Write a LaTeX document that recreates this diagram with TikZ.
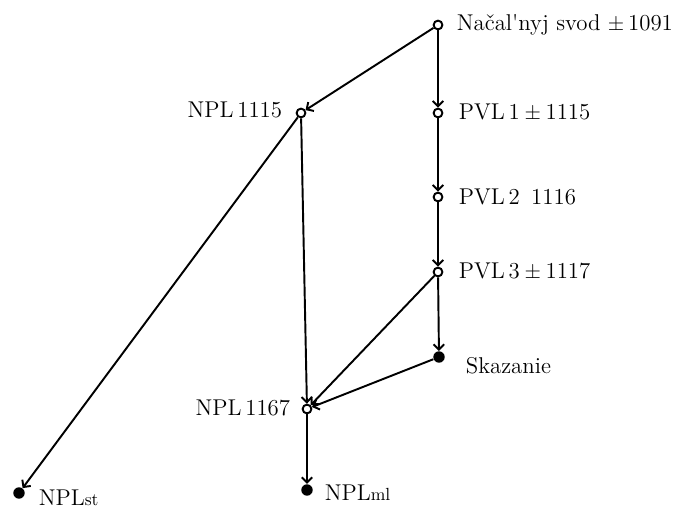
\documentclass[tikz,border=0pt]{standalone}
\usepackage{fontspec}
\usetikzlibrary{arrows.meta}
\tikzset{
  opendot/.style={circle, draw, line width=1.1pt, fill=white, inner sep=0pt, minimum size=5pt},
  fulldot/.style={circle, fill, inner sep=0pt, minimum size=6.5pt},
  lbl/.style={font=\fontsize{13}{15}\selectfont, inner sep=2pt},
  edge/.style={-{Straight Barb[length=3pt,width=6pt]}, line width=1.1pt},
}
\newcommand{\sml}[1]{{\fontsize{10}{11}\selectfont #1}}

\begin{document}
\begin{tikzpicture}[x=0.02cm,y=-0.02cm]
    \useasboundingbox (0,0) rectangle (685,509);

    % =====================
    % Nodes
    % =====================
    \node[opendot] (svod) at (438,25) {};
    \node[opendot] (npla) at (301,113) {};
    \node[opendot] (pvla) at (438,113) {};
    \node[opendot] (pvlb) at (438,197) {};
    \node[opendot] (pvlc) at (438,272) {};
    \node[fulldot] (skaz) at (439,357) {};
    \node[opendot] (nplb) at (307,409) {};
    \node[fulldot] (nplst) at (19,493) {};
    \node[fulldot] (nplml) at (307,490) {};

    % =====================
    % Labels
    % =====================
    \node[lbl, anchor=west] (tsvod) at (453,25) {Na\v{c}al\textquotesingle nyj svod $\pm$\,1091};
    \node[lbl, anchor=east] (tnpla) at (286,110) {NPL\,1115};
    \node[lbl, anchor=west] (tpvla) at (455,113) {PVL\,1${}\pm{}$1115};
    \node[lbl, anchor=west] (tpvlb) at (455,197) {PVL\,2\enspace1116};
    \node[lbl, anchor=west] (tpvlc) at (455,272) {PVL\,3${}\pm{}$1117};
    \node[lbl, anchor=west] (tskaz) at (462,366) {Skazanie};
    \node[lbl, anchor=east] (tnplb) at (294,408) {NPL\,1167};
    \node[lbl, anchor=west] (tnplst) at (35,498) {NPL\sml{st}};
    \node[lbl, anchor=west] (tnplml) at (321,493) {NPL\sml{ml}};

    % =====================
    % Arrows
    % =====================
    \draw[edge] (svod) -- (npla);
    \draw[edge] (svod) -- (pvla);
    \draw[edge] (pvla) -- (pvlb);
    \draw[edge] (pvlb) -- (pvlc);
    \draw[edge] (pvlc) -- (skaz);
    \draw[edge] (pvlc) -- (nplb);
    \draw[edge] (skaz) -- (nplb);
    \draw[edge] (npla) -- (nplb);
    \draw[edge] (npla) -- (nplst);
    \draw[edge] (nplb) -- (nplml);

\end{tikzpicture}
\end{document}
